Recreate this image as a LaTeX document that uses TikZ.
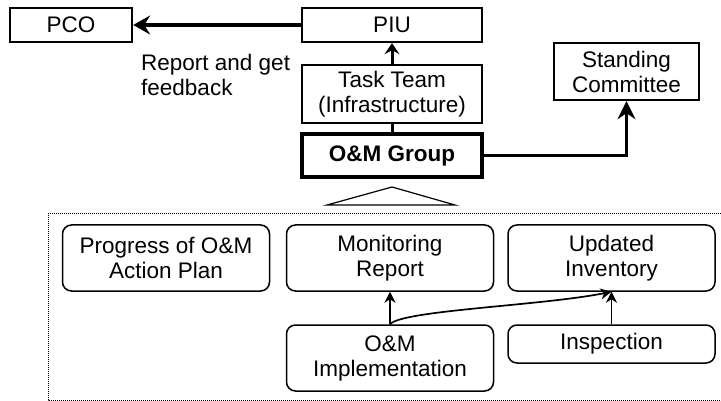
\documentclass[tikz,border=0pt]{standalone}
\usepackage{fontspec}
\setmainfont{Liberation Sans}
\usetikzlibrary{arrows.meta}

\begin{document}
\begin{tikzpicture}[x=1pt,y=-1pt,
  every node/.style={font=\fontsize{22.5}{25}\selectfont, inner sep=0pt, align=center},
  orgbox/.style={draw, line width=2.4pt, rectangle},
  groupbox/.style={draw, line width=3.2pt, rectangle, font=\fontsize{22.5}{25}\selectfont\bfseries},
  itembox/.style={draw, line width=1.5pt, rounded corners=9pt, minimum width=207pt},
  bigarrow/.style={line width=3.2pt, -{Stealth[length=17pt,width=19pt,inset=6pt]}},
  midarrow/.style={line width=3pt, -{Stealth[length=11pt,width=15pt,inset=4pt]}},
  smallarrow/.style={line width=1.7pt, -{Stealth[length=11pt,width=11pt,inset=3.5pt]}}
]
\useasboundingbox (0,0) rectangle (721,401);

% upper organisation chart
\node[orgbox, minimum width=122pt, minimum height=34pt] (pco) at (71,25) {PCO};
\node[orgbox, minimum width=180pt, minimum height=34pt] (piu) at (392,25) {PIU};
\node[orgbox, minimum width=180pt, minimum height=58pt] (task) at (392,94) {Task Team\\(Infrastructure)};
\node[groupbox, minimum width=180pt, minimum height=43pt] (grp) at (392,155.5) {O\&M Group};
\node[orgbox, minimum width=145pt, minimum height=57pt] (std) at (626.5,71.5) {Standing\\Committee};
\node[anchor=north west, align=left] (lbl) at (141,54) {Report and get\\feedback};

\draw[bigarrow] (piu.west) -- (pco.east);
\draw[midarrow] (task.north) -- (piu.south);
\draw[line width=3pt] (grp.north) -- (task.south);
\draw[line width=3.6pt, -{Stealth[length=18pt,width=18pt,inset=6pt]}, line join=miter]
  (grp.east) -| (std.south);

% callout triangle
\coordinate (apex) at (392,187);
\coordinate (bl) at (327,205);
\coordinate (br) at (455,205);
\draw[line width=1.2pt, line join=miter] (bl) -- (apex) -- (br) -- cycle;

% dotted frame (open to the right)
\draw[line width=1pt, dash pattern=on 1pt off 1pt]
  (721,214) -- (48,214) -- (48,400) -- (721,400);

% O&M items
\node[itembox, minimum height=66pt] (prog) at (166,258) {Progress of O\&M\\Action Plan};
\node[itembox, minimum height=66pt] (mon) at (390,258) {Monitoring\\Report};
\node[itembox, minimum height=66pt] (upd) at (611.5,258) {Updated\\Inventory};
\node[itembox, minimum height=66pt] (impl) at (390,358) {O\&M\\Implementation};
\node[itembox, minimum height=38pt] (insp) at (611.5,344) {Inspection};

\draw[smallarrow] (impl.north) -- (mon.south);
\draw[smallarrow] (insp.north) -- (upd.south);
\draw[smallarrow] (impl.north) .. controls +(12,-14) and +(-70,14) .. (upd.south);
\end{tikzpicture}
\end{document}
